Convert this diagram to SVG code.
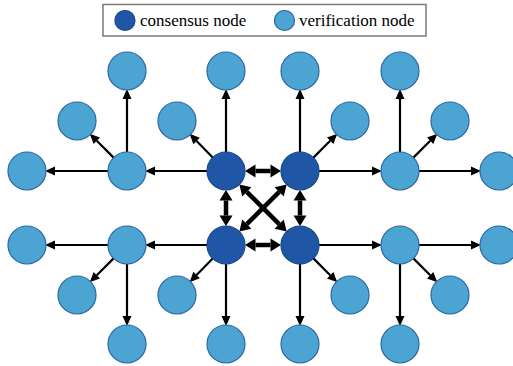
<svg xmlns="http://www.w3.org/2000/svg" width="513" height="366" viewBox="0 0 513 366">
<defs>
<style>
.v{fill:#4ba4d2;stroke:#2c66a3;stroke-width:1.2}
.c{fill:#1f56a5;stroke:#1a4887;stroke-width:1.2}
.a{stroke:#000;stroke-width:2.2;fill:none;marker-end:url(#ah)}
.b{stroke:#000;stroke-width:4.5;fill:none;marker-start:url(#bh);marker-end:url(#bh)}
</style>
<marker id="ah" markerUnits="userSpaceOnUse" markerWidth="12" markerHeight="12" refX="0" refY="4.5" orient="auto" overflow="visible">
<path d="M0,0 L10,4.5 L0,9 Z" fill="#000"/>
</marker>
<marker id="bh" markerUnits="userSpaceOnUse" markerWidth="14" markerHeight="16" refX="0" refY="6.5" orient="auto-start-reverse" overflow="visible">
<path d="M0,0 L10.5,6.5 L0,13 Z" fill="#000"/>
</marker>
</defs>
<rect width="513" height="366" fill="#fff"/>
<g id="legend" font-family="'Liberation Serif', 'DejaVu Serif', serif" font-size="17" fill="#000">
<rect x="103" y="4.5" width="323" height="31.5" fill="#fff" stroke="#7a7a7a" stroke-width="1.5"/>
<circle class="c" cx="125" cy="20.5" r="10"/>
<text x="140" y="26">consensus node</text>
<circle class="v" cx="284.5" cy="20.5" r="10"/>
<text x="299" y="26">verification node</text>
</g>
<g id="connectors">
<line class="a" x1="226" y1="152" x2="226" y2="99"/>
<line class="a" x1="212.7" y1="157.4" x2="196.6" y2="141"/>
<line class="a" x1="207" y1="171" x2="155" y2="171"/>
<line class="a" x1="127" y1="152" x2="127" y2="99"/>
<line class="a" x1="113.6" y1="157.6" x2="96.8" y2="140.8"/>
<line class="a" x1="108" y1="171" x2="55" y2="171"/>
<line class="a" x1="300" y1="152" x2="300" y2="99"/>
<line class="a" x1="313.4" y1="157.6" x2="330.2" y2="140.8"/>
<line class="a" x1="319" y1="171" x2="372" y2="171"/>
<line class="a" x1="400" y1="152" x2="400" y2="99"/>
<line class="a" x1="413.4" y1="157.6" x2="430.2" y2="140.8"/>
<line class="a" x1="419" y1="171" x2="471" y2="171"/>
<line class="a" x1="226" y1="264" x2="226" y2="316"/>
<line class="a" x1="212.7" y1="258.6" x2="196.6" y2="275"/>
<line class="a" x1="207" y1="245" x2="155" y2="245"/>
<line class="a" x1="108" y1="245" x2="55" y2="245"/>
<line class="a" x1="113.6" y1="258.4" x2="96.8" y2="275.2"/>
<line class="a" x1="127" y1="264" x2="127" y2="316"/>
<line class="a" x1="300" y1="264" x2="300" y2="316"/>
<line class="a" x1="313.4" y1="258.4" x2="330.2" y2="275.2"/>
<line class="a" x1="319" y1="245" x2="372" y2="245"/>
<line class="a" x1="419" y1="245" x2="471" y2="245"/>
<line class="a" x1="413.4" y1="258.4" x2="430.2" y2="275.2"/>
<line class="a" x1="400" y1="264" x2="400" y2="316"/>
<line class="b" x1="255.5" y1="171" x2="270.5" y2="171"/>
<line class="b" x1="255.5" y1="245" x2="270.5" y2="245"/>
<line class="b" x1="226" y1="200.5" x2="226" y2="215.5"/>
<line class="b" x1="300" y1="200.5" x2="300" y2="215.5"/>
<line class="b" x1="246.8" y1="191.8" x2="279.2" y2="224.2"/>
<line class="b" x1="279.2" y1="191.8" x2="246.8" y2="224.2"/>
</g>
<g id="consensus-nodes">
<circle id="c1" class="c" cx="226" cy="171" r="19"/>
<circle id="c2" class="c" cx="300" cy="171" r="19"/>
<circle id="c3" class="c" cx="226" cy="245" r="19"/>
<circle id="c4" class="c" cx="300" cy="245" r="19"/>
</g>
<g id="verification-nodes">
<circle id="h1" class="v" cx="127" cy="171" r="19"/>
<circle id="h2" class="v" cx="400" cy="171" r="19"/>
<circle id="h3" class="v" cx="127" cy="245" r="19"/>
<circle id="h4" class="v" cx="400" cy="245" r="19"/>
<circle id="v1" class="v" cx="226" cy="71" r="19"/>
<circle id="v2" class="v" cx="177" cy="121" r="19"/>
<circle id="v3" class="v" cx="300" cy="71" r="19"/>
<circle id="v4" class="v" cx="350" cy="121" r="19"/>
<circle id="v5" class="v" cx="226" cy="344" r="19"/>
<circle id="v6" class="v" cx="177" cy="295" r="19"/>
<circle id="v7" class="v" cx="300" cy="344" r="19"/>
<circle id="v8" class="v" cx="350" cy="295" r="19"/>
<circle id="v9" class="v" cx="127" cy="71" r="19"/>
<circle id="v10" class="v" cx="77" cy="121" r="19"/>
<circle id="v11" class="v" cx="27" cy="171" r="19"/>
<circle id="v12" class="v" cx="400" cy="71" r="19"/>
<circle id="v13" class="v" cx="450" cy="121" r="19"/>
<circle id="v14" class="v" cx="499" cy="171" r="19"/>
<circle id="v15" class="v" cx="27" cy="245" r="19"/>
<circle id="v16" class="v" cx="77" cy="295" r="19"/>
<circle id="v17" class="v" cx="127" cy="344" r="19"/>
<circle id="v18" class="v" cx="499" cy="245" r="19"/>
<circle id="v19" class="v" cx="450" cy="295" r="19"/>
<circle id="v20" class="v" cx="400" cy="344" r="19"/>
</g>
</svg>
